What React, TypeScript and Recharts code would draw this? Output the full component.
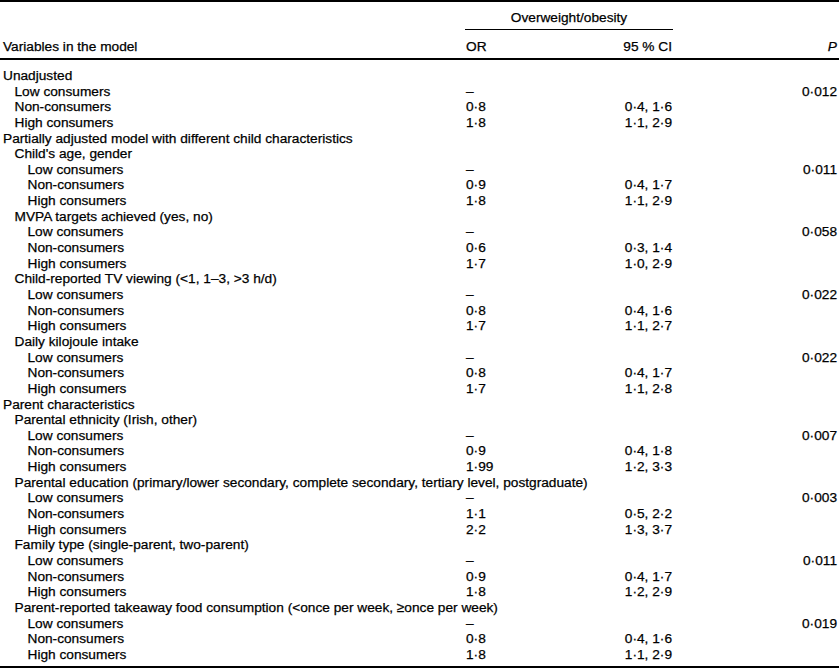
import { ComposedChart, XAxis, YAxis } from "recharts";

const LABELS = [
  "Unadjusted", "Low consumers", "Non-consumers", "High consumers",
  "Partially adjusted model with different child characteristics",
  "Child's age, gender", "Low consumers", "Non-consumers", "High consumers",
  "MVPA targets achieved (yes, no)", "Low consumers", "Non-consumers", "High consumers",
  "Child-reported TV viewing (<1, 1–3, >3 h/d)", "Low consumers", "Non-consumers", "High consumers",
  "Daily kilojoule intake", "Low consumers", "Non-consumers", "High consumers",
  "Parent characteristics",
  "Parental ethnicity (Irish, other)", "Low consumers", "Non-consumers", "High consumers",
  "Parental education (primary/lower secondary, complete secondary, tertiary level, postgraduate)", "Low consumers", "Non-consumers", "High consumers",
  "Family type (single-parent, two-parent)", "Low consumers", "Non-consumers", "High consumers",
  "Parent-reported takeaway food consumption (<once per week, ≥once per week)", "Low consumers", "Non-consumers", "High consumers",
];
const LEVELS = [0, 1, 1, 1, 0, 1, 2, 2, 2, 1, 2, 2, 2, 1, 2, 2, 2, 1, 2, 2, 2, 0, 1, 2, 2, 2, 1, 2, 2, 2, 1, 2, 2, 2, 1, 2, 2, 2];
const OR = [
  "", "–", "0·8", "1·8", "",
  "", "–", "0·9", "1·8",
  "", "–", "0·6", "1·7",
  "", "–", "0·8", "1·7",
  "", "–", "0·8", "1·7",
  "",
  "", "–", "0·9", "1·99",
  "", "–", "1·1", "2·2",
  "", "–", "0·9", "1·8",
  "", "–", "0·8", "1·8",
];
const CI = [
  "", "", "0·4, 1·6", "1·1, 2·9", "",
  "", "", "0·4, 1·7", "1·1, 2·9",
  "", "", "0·3, 1·4", "1·0, 2·9",
  "", "", "0·4, 1·6", "1·1, 2·7",
  "", "", "0·4, 1·7", "1·1, 2·8",
  "",
  "", "", "0·4, 1·8", "1·2, 3·3",
  "", "", "0·5, 2·2", "1·3, 3·7",
  "", "", "0·4, 1·7", "1·2, 2·9",
  "", "", "0·4, 1·6", "1·1, 2·9",
];
const P = [
  "", "0·012", "", "", "",
  "", "0·011", "", "",
  "", "0·058", "", "",
  "", "0·022", "", "",
  "", "0·022", "", "",
  "",
  "", "0·007", "", "",
  "", "0·003", "", "",
  "", "0·011", "", "",
  "", "0·019", "", "",
];

const rows = LABELS.map((label, i) => ({ id: `r${i}`, label, level: LEVELS[i], or: OR[i], ci: CI[i], p: P[i] }));
const byId: Record<string, (typeof rows)[number]> = Object.fromEntries(rows.map((r) => [r.id, r]));

const FONT = "'Liberation Sans', Arial, Helvetica, sans-serif";
const FS = 13.7;
const INK = "#000";
const INDENT = [3, 14.5, 27.5];
const COL_OR = 466;
const COL_CI = 672;
const COL_P = 837;

// eslint-disable-next-line @typescript-eslint/no-explicit-any
function RowTick({ y, payload }: any) {
  const r = byId[payload.value];
  if (!r) return null;
  return (
    <g fontFamily={FONT} fontSize={FS} fill={INK} stroke={INK} strokeWidth={0.25}>
      <text x={INDENT[r.level]} y={y} dy="0.36em">{r.label}</text>
      {r.or && <text x={COL_OR} y={y} dy="0.36em">{r.or}</text>}
      {r.ci && <text x={COL_CI} y={y} dy="0.36em" textAnchor="end">{r.ci}</text>}
      {r.p && <text x={COL_P} y={y} dy="0.36em" textAnchor="end">{r.p}</text>}
    </g>
  );
}

const txt = (extra: React.CSSProperties): React.CSSProperties => ({
  position: "absolute", fontFamily: FONT, fontSize: FS, lineHeight: "16px", color: INK,
  WebkitTextStroke: "0.25px #000", whiteSpace: "nowrap", ...extra,
});
const rule = (top: number, left: number, width: number, h: number): React.CSSProperties => ({
  position: "absolute", top, left, width, height: h, background: INK,
});

export default function App() {
  return (
    <div style={{ position: "absolute", left: 0, top: 0, width: 839, height: 670, background: "#fff" }}>
      {/* no bars, so the category axis is a point scale: first row sits on the top margin, last on the bottom */}
      <ComposedChart width={839} height={670} data={rows} layout="vertical" margin={{ top: 75, right: 0, bottom: 16, left: 0 }}>
        <XAxis type="number" hide domain={[0, 1]} />
        <YAxis type="category" dataKey="id" width={1} axisLine={false} tickLine={false} interval={0} tick={<RowTick />} />
      </ComposedChart>
      <div style={rule(0, 0, 839, 2)} />
      <div style={txt({ top: 10, left: 505, width: 128, textAlign: "center" })}>Overweight/obesity</div>
      <div style={rule(29, 465, 208, 1)} />
      <div style={txt({ top: 39, left: 3 })}>Variables in the model</div>
      <div style={txt({ top: 39, left: COL_OR })}>OR</div>
      <div style={txt({ top: 39, right: 839 - COL_CI })}>95 % CI</div>
      <div style={txt({ top: 39, right: 839 - COL_P, fontStyle: "italic" })}>P</div>
      <div style={rule(58, 0, 839, 1.5)} />
      <div style={rule(666, 0, 839, 2)} />
    </div>
  );
}
